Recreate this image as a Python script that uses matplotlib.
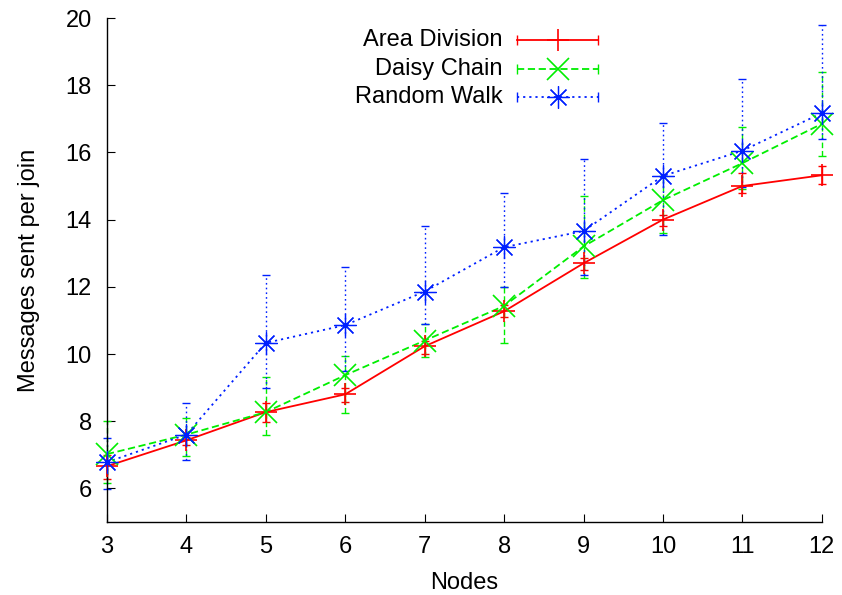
import matplotlib
matplotlib.use("Agg")
import matplotlib.pyplot as plt
import numpy as np

plt.rcParams['font.family'] = ['Liberation Sans', 'DejaVu Sans']

nodes = [3, 4, 5, 6, 7, 8, 9, 10, 11, 12]

area_mean = [6.66, 7.43, 8.27, 8.80, 10.23, 11.27, 12.70, 14.00, 15.00, 15.32]
area_low  = [6.28, 7.30, 7.98, 8.57, 10.00, 11.10, 12.50, 13.80, 14.80, 15.07]
area_high = [7.00, 7.52, 8.54, 8.98, 10.40, 11.45, 12.85, 14.15, 15.40, 15.60]

daisy_mean = [7.02, 7.60, 8.27, 9.37, 10.40, 11.43, 13.20, 14.58, 15.68, 16.85]
daisy_low  = [6.15, 6.96, 7.60, 8.24, 9.90, 10.33, 12.27, 13.60, 14.90, 15.90]
daisy_high = [8.00, 8.10, 9.31, 9.94, 10.90, 12.00, 14.70, 15.30, 16.77, 18.40]

walk_mean = [6.78, 7.60, 10.33, 10.86, 11.86, 13.18, 13.66, 15.30, 16.05, 17.17]
walk_low  = [5.98, 6.85, 9.00, 9.50, 10.90, 12.00, 12.35, 13.55, 14.98, 16.40]
walk_high = [7.50, 8.55, 12.35, 12.60, 13.80, 14.79, 15.80, 16.87, 18.20, 19.80]

series_names = ["Area Division", "Daisy Chain", "Random Walk"]

FS = 17

fig = plt.figure(figsize=(8.42, 5.95), dpi=100)
ax = fig.add_axes([0.127, 0.1227, 0.849, 0.847])

red, green, blue = '#ff0000', '#00ee00', '#0020ff'
asterisk = (8, 2, 0)

specs = [
    (area_mean, area_low, area_high, red, '-', '+', 1.2),
    (daisy_mean, daisy_low, daisy_high, green, (0, (4, 2)), 'x', 1.2),
    (walk_mean, walk_low, walk_high, blue, (0, (1.2, 2.2)), asterisk, 0.9),
]

for mean, lo, hi, col, ls, mk, mew in specs:
    m = np.array(mean)
    yerr = np.vstack([m - np.array(lo), np.array(hi) - m])
    cont = ax.errorbar(nodes, m, yerr=yerr, fmt='none', ecolor=col, elinewidth=1.0,
                       capsize=3.0, capthick=1.0, zorder=2)
    for bl in cont.lines[2]:
        bl.set_linestyle(ls)
        bl.set_clip_on(False)
    for cl in cont.lines[1]:
        cl.set_clip_on(False)
    ax.plot(nodes, m, color=col, linestyle=ls, linewidth=1.3, zorder=3, clip_on=False)
    ax.plot(nodes, m, color=col, linestyle='none', marker=mk, markersize=16,
            markeredgewidth=mew, zorder=4, clip_on=False)

ax.set_xlim(3, 12)
ax.set_ylim(5, 20)
ax.set_xticks(nodes)
ax.set_yticks([6, 8, 10, 12, 14, 16, 18, 20])
ax.tick_params(direction='in', length=6, width=0.8, labelsize=FS)
ax.tick_params(axis='x', pad=10)
ax.tick_params(axis='y', pad=11)
for s in ['top', 'right']:
    ax.spines[s].set_visible(False)
for s in ['left', 'bottom']:
    ax.spines[s].set_linewidth(1.0)

ax.set_xlabel("Nodes", fontsize=FS, labelpad=10)
ax.set_ylabel("Messages sent per join", fontsize=FS, labelpad=18)

# manual gnuplot-style legend
rows_y = [0.956, 0.899, 0.843]
tx, x1, x2, xm = 0.554, 0.573, 0.687, 0.631
for name, (mean, lo, hi, col, ls, mk, mew), yy in zip(series_names, specs, rows_y):
    ax.text(tx, yy, name, transform=ax.transAxes, ha='right', va='center', fontsize=FS)
    ax.plot([x1, x2], [yy, yy], transform=ax.transAxes, color=col, linestyle=ls,
            linewidth=1.3, clip_on=False)
    ax.plot([x1, x2], [yy, yy], transform=ax.transAxes, color=col, linestyle='none',
            marker='|', markersize=7, markeredgewidth=1.0, clip_on=False)
    ax.plot([xm], [yy], transform=ax.transAxes, color=col, linestyle='none',
            marker=mk, markersize=16, markeredgewidth=mew, clip_on=False)

fig.savefig("out.png", dpi=100)
